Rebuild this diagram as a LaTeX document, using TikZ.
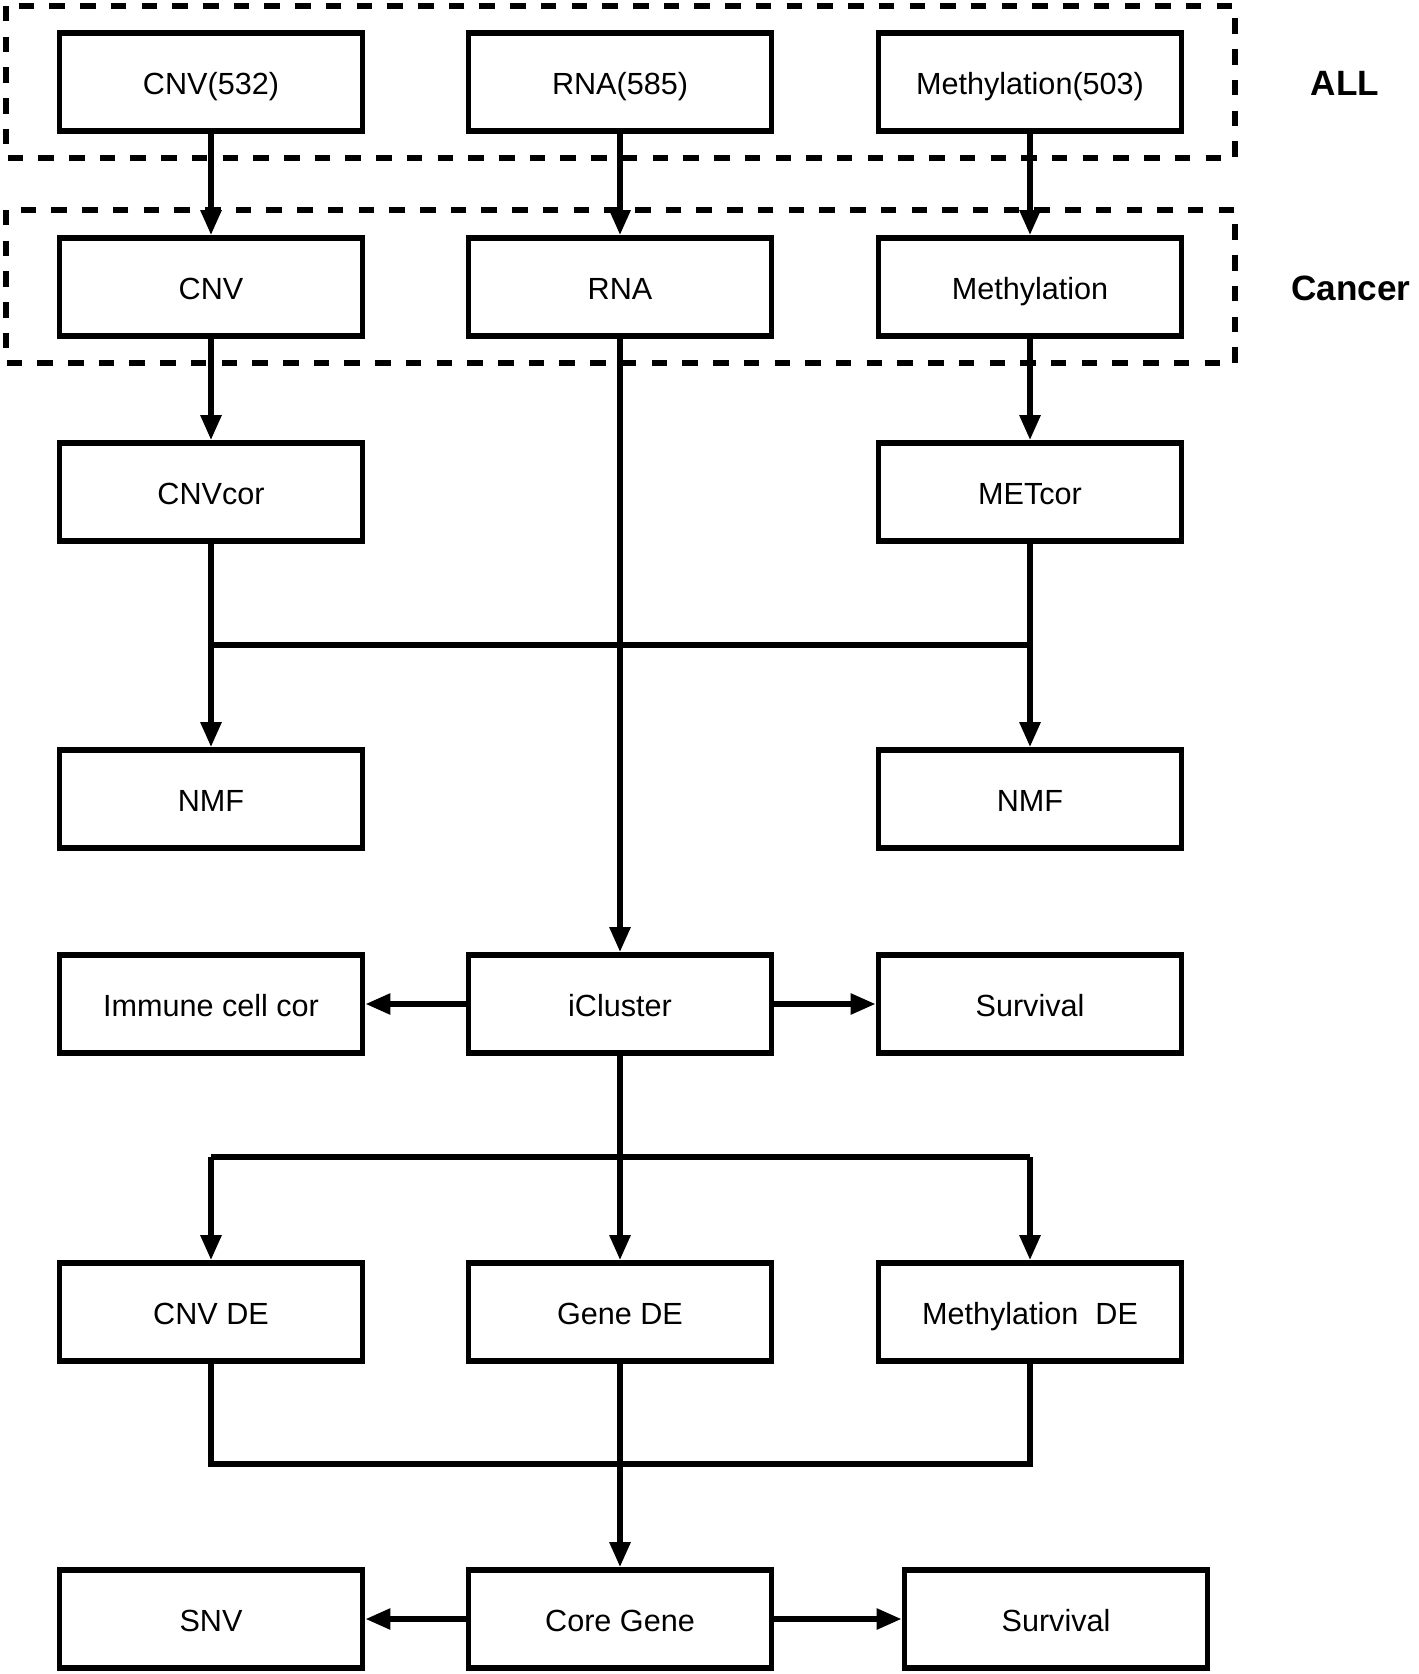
\documentclass[tikz,border=0pt]{standalone}
\usepackage{fontspec}
\setmainfont{Liberation Sans}
\usepackage{tikz}
\usetikzlibrary{arrows.meta}

\tikzset{
  box/.style={draw, line width=1.6pt, minimum width=3.03cm, minimum height=0.98cm, inner sep=0pt,
    text height=0.716em, text depth=0pt, font=\fontsize{8.7}{10}\selectfont},
  group/.style={line width=1.5pt, dash pattern=on 0.155cm off 0.152cm},
  tag/.style={font=\fontsize{10}{12}\selectfont\bfseries},
}

\begin{document}
\begin{tikzpicture}[x=0.01cm, y=-0.01cm, line width=1.6pt, >={Triangle[length=0.25cm,width=0.2cm]}]
\useasboundingbox (0,0) rectangle (1418,1674);
% dashed groups
\draw[group] (6,6) rectangle (1235,158);
\draw[group] (6,210) rectangle (1235,363);
\node[tag] (all) at (1345,83) {ALL};
\node[tag] (cancer) at (1351,288) {Cancer};
% boxes
\node[box] (cnvall) at (211,82) {CNV(532)};
\node[box] (rnaall) at (620,82) {RNA(585)};
\node[box] (metall) at (1030,82) {Methylation(503)};
\node[box] (cnv) at (211,287) {CNV};
\node[box] (rna) at (620,287) {RNA};
\node[box] (met) at (1030,287) {Methylation};
\node[box] (cnvcor) at (211,492) {CNVcor};
\node[box] (metcor) at (1030,492) {METcor};
\node[box] (nmfl) at (211,799) {NMF};
\node[box] (nmfr) at (1030,799) {NMF};
\node[box] (immune) at (211,1004) {Immune cell cor};
\node[box] (icluster) at (620,1004) {iCluster};
\node[box] (survA) at (1030,1004) {Survival};
\node[box] (cnvde) at (211,1312) {CNV DE};
\node[box] (genede) at (620,1312) {Gene DE};
\node[box] (metde) at (1030,1312) {Methylation~~DE};
\node[box] (snv) at (211,1619) {SNV};
\node[box] (core) at (620,1619) {Core Gene};
\node[box] (survB) at (1056,1619) {Survival};
% junctions
\coordinate (jl) at (211,645);
\coordinate (jr) at (1030,645);
\coordinate (ka) at (211,1157);
\coordinate (kb) at (620,1157);
\coordinate (kc) at (1030,1157);
\coordinate (la) at (211,1464);
\coordinate (lc) at (1030,1464);
% connectors
\draw[->] (cnvall) -- (cnv);
\draw[->] (rnaall) -- (rna);
\draw[->] (metall) -- (met);
\draw[->] (cnv) -- (cnvcor);
\draw[->] (met) -- (metcor);
\draw[->] (rna) -- (icluster);
\draw (cnvcor) -- (jl) -- (jr) -- (metcor);
\draw[->] (jl) -- (nmfl);
\draw[->] (jr) -- (nmfr);
\draw[->] (icluster) -- (immune);
\draw[->] (icluster) -- (survA);
\draw (icluster) -- (kb);
\draw (ka) -- (kc);
\draw[->] (ka) -- (cnvde);
\draw[->] (kb) -- (genede);
\draw[->] (kc) -- (metde);
\draw (cnvde) -- (la) -- (lc) -- (metde);
\draw[->] (genede) -- (core);
\draw[->] (core) -- (snv);
\draw[->] (core) -- (survB);
\end{tikzpicture}
\end{document}
